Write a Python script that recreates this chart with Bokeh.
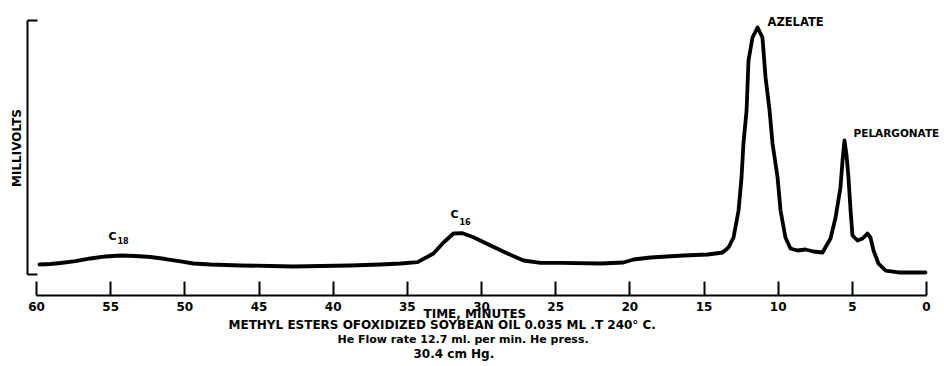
from bokeh.plotting import figure
from bokeh.models import Range1d, FixedTicker, Title
from bokeh.core.properties import value
from bokeh.embed import file_html
from bokeh.resources import INLINE

# ---- data ----
time_min = [59.80, 59.06, 58.38, 57.37, 56.36, 55.35, 54.34, 53.33, 52.31, 51.30,
            50.29, 49.42, 48.27, 46.25, 44.22, 42.67, 40.85, 38.83, 36.81, 35.46,
            34.31, 33.24, 32.56, 31.89, 31.28, 30.54, 29.39, 28.25, 27.17, 26.02,
            24.67, 21.98, 20.43, 19.75, 18.61, 16.38, 14.76, 14.22, 13.75, 13.35,
            13.01, 12.67, 12.47, 12.34, 12.13, 12.00, 11.73, 11.39, 11.06, 10.85,
            10.58, 10.38, 10.04, 9.84, 9.51, 9.17, 8.70, 8.16, 7.62, 7.01,
            6.47, 6.13, 5.80, 5.66, 5.53, 5.39, 5.26, 5.12, 4.99, 4.65,
            4.31, 3.98, 3.78, 3.57, 3.24, 2.76, 1.89, 0.07]
millivolts = [3.94, 4.13, 4.53, 5.31, 6.30, 7.09, 7.48, 7.28, 6.89, 6.10,
              5.12, 4.33, 3.94, 3.54, 3.35, 3.15, 3.35, 3.54, 3.94, 4.33,
              4.84, 8.27, 12.60, 16.14, 16.26, 14.69, 11.42, 8.27, 5.51, 4.61,
              4.61, 4.33, 4.72, 5.91, 6.69, 7.48, 7.87, 8.27, 8.66, 10.63,
              14.57, 25.20, 38.19, 51.57, 64.57, 84.25, 93.31, 97.24, 93.31, 77.56,
              64.57, 51.57, 38.19, 25.20, 14.57, 10.24, 9.45, 9.84, 9.06, 8.66,
              14.17, 22.44, 34.25, 44.88, 52.76, 46.85, 38.19, 25.20, 15.35, 13.39,
              14.17, 16.14, 14.57, 9.45, 4.33, 1.57, 0.79, 0.79]

tick_values = [60, 55, 50, 45, 40, 35, 30, 25, 20, 15, 10, 5, 0]
tick_labels = ["60", "55", "50", "45", "40", "35", "30", "25", "20", "15", "10", "5", "0"]

peak_names = ["AZELATE", "PELARGONATE"]
peak_name_x = [10.72, 4.92]
peak_name_y = [99.6, 55.9]
peak_name_sizes = ["11.5px", "10.5px"]

chain_names = ["C", "C"]
chain_subs = ["18", "16"]
chain_x = [54.61, 31.55]
chain_y = [15.0, 23.6]
chain_sub_x = [54.54, 31.48]
chain_sub_y = [13.4, 20.9]

caption_lines = ["TIME, MINUTES",
                 "METHYL ESTERS OFOXIDIZED SOYBEAN  OIL  0.035 ML .T 240\u00b0 C.",
                 "He Flow rate 12.7 ml. per min. He press.",
                 "30.4 cm Hg."]
caption_sizes = ["12px", "12px", "11px", "12px"]
# layout of the caption block (pixels): left offsets from the frame edge, standoffs
caption_offset = [396, 201, 310, 386]
caption_standoff = [-13.6, 5.6, -8.4, 5.2]

FONT = "DejaVu Sans"

p = figure(width=944, height=366, output_backend="svg", toolbar_location=None,
           title=None,
           x_range=Range1d(start=60.607, end=-1.2135),
           y_range=Range1d(start=-8.268, end=107.874),
           min_border_left=27, min_border_right=0, min_border_top=0,
           min_border_bottom=71)
p.outline_line_color = None
p.grid.grid_line_color = None
p.background_fill_color = "white"
p.border_fill_color = "white"

# x axis
xa = p.xaxis[0]
xa.ticker = FixedTicker(ticks=tick_values)
xa.major_label_overrides = {v: s for v, s in zip(tick_values, tick_labels)}
xa.bounds = (0, 60)
xa.major_tick_in = 14
xa.major_tick_out = 0
xa.minor_tick_line_color = None
xa.axis_line_width = 2
xa.major_tick_line_width = 2
xa.axis_line_color = "black"
xa.major_tick_line_color = "black"
xa.major_label_standoff = 6
xa.major_label_text_font = FONT
xa.major_label_text_font_style = "bold"
xa.major_label_text_font_size = "12px"
xa.major_label_text_color = "black"

# caption lines below the time axis
for line, size, off, s in zip(caption_lines, caption_sizes, caption_offset, caption_standoff):
    p.add_layout(Title(text=line, align="left", vertical_align="top",
                       offset=off, standoff=s, text_font=FONT,
                       text_font_style="bold", text_font_size=size,
                       text_color="black"), "below")

# y axis (bracket)
ya = p.yaxis[0]
ya.ticker = FixedTicker(ticks=[0, 100])
ya.major_label_overrides = {0: "", 100: ""}
ya.bounds = (0, 100)
ya.major_tick_in = 10
ya.major_tick_out = 0
ya.minor_tick_line_color = None
ya.axis_line_width = 2
ya.major_tick_line_width = 2
ya.axis_line_color = "black"
ya.major_tick_line_color = "black"
ya.major_label_standoff = 0
ya.major_label_text_font_size = "0px"
ya.axis_label = "MILLIVOLTS"
ya.axis_label_standoff = 4
ya.axis_label_text_font = FONT
ya.axis_label_text_font_style = "bold"
ya.axis_label_text_font_size = "12px"
ya.axis_label_text_color = "black"

# trace
p.line(time_min, millivolts, line_color="black", line_width=3.8,
       line_join="round", line_cap="round")

# peak names
for name, nx, ny, fs in zip(peak_names, peak_name_x, peak_name_y, peak_name_sizes):
    p.text([nx], [ny], text=[name], text_font=value(FONT),
           text_font_style="bold", text_font_size=fs, text_color="black",
           text_align="left", text_baseline="middle")
# chain labels with subscripts
p.text(chain_x, chain_y, text=chain_names, text_font=value(FONT),
       text_font_style="bold", text_font_size="11px", text_color="black",
       text_align="right", text_baseline="middle")
p.text(chain_sub_x, chain_sub_y, text=chain_subs,
       text_font=value(FONT), text_font_style="bold", text_font_size="8px",
       text_color="black", text_align="left", text_baseline="middle")

open("out.html", "w").write(file_html(p, INLINE))
